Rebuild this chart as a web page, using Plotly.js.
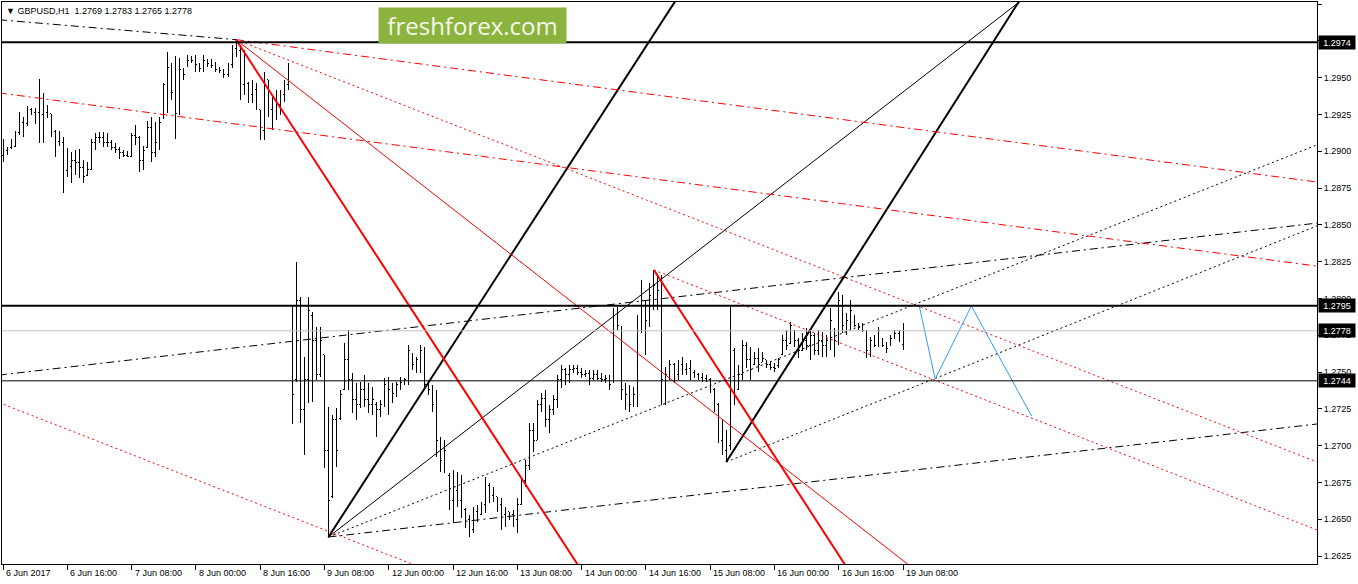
<!DOCTYPE html>
<html>
<head>
<meta charset="utf-8">
<script src="https://cdn.plot.ly/plotly-3.0.1.min.js"></script>
<style>
html,body{margin:0;padding:0;background:#fff;}
#chart{width:1358px;height:584px;}
.ohlclayer path{shape-rendering:crispEdges;}
</style>
</head>
<body>
<div id="chart"></div>
<script>
// ---------------- DATA ----------------
const symbol = "GBPUSD,H1";

const open = [
1.28974,1.29008,1.29022,1.29035,1.29130,1.29198,1.29191,1.29280,1.29266,1.29266,
1.29246,1.29266,1.29253,1.29137,1.29069,1.29056,1.28872,1.28893,1.28940,1.28926,
1.28886,1.28838,1.28879,1.29062,1.29096,1.29090,1.29062,1.29056,1.29028,1.29015,
1.28988,1.28974,1.28967,1.29110,1.29090,1.28940,1.29022,1.29164,1.28994,1.29062,
1.29219,1.29450,1.29572,1.29402,1.29259,1.29552,1.29579,1.29619,1.29613,1.29586,
1.29565,1.29619,1.29599,1.29579,1.29552,1.29545,1.29518,1.29586,1.29701,1.29687,
1.29450,1.29463,1.29382,1.29416,1.29280,1.29144,1.29484,1.29280,1.29348,1.29314,
1.29382,1.29450,
1.27955,1.27446,1.27989,1.27242,1.27446,1.27887,1.27717,1.27480,1.27616,1.26970,
1.26651,1.27174,1.27187,1.27378,1.27582,1.27446,1.27310,1.27276,1.27378,1.27310,
1.27276,1.27276,1.27242,1.27276,1.27412,1.27378,1.27357,1.27412,1.27432,1.27446,
1.27616,1.27548,1.27582,1.27649,1.27412,
1.27378,1.27276,1.27038,1.26902,1.26800,1.26630,1.26698,1.26630,1.26563,1.26495,
1.26427,1.26549,1.26529,1.26597,1.26732,1.26664,1.26651,1.26597,1.26529,1.26549,
1.26529,1.26495,1.26597,1.26766,1.26868,1.27106,1.27038,1.27276,1.27323,1.27174,
1.27242,1.27310,1.27446,1.27514,1.27480,
1.27514,1.27527,1.27500,1.27480,1.27493,1.27459,1.27480,1.27459,1.27446,1.27459,
1.27432,1.27887,1.27806,1.27378,1.27344,1.27276,1.27344,1.27785,1.27989,1.27853,
1.28023,1.28091,1.28057,1.27446,1.27480,1.27548,1.27480,1.27548,1.27514,1.27527,
1.27500,1.27480,1.27466,1.27459,1.27446,1.27378,1.27276,1.27038,1.26970,
1.27004,1.27649,1.27378,1.27480,1.27683,1.27582,1.27548,1.27595,1.27568,1.27582,
1.27548,1.27534,1.27541,1.27616,1.27717,1.27697,1.27785,1.27717,1.27649,1.27717,
1.27683,1.27751,1.27649,1.27717,1.27683,1.27717,1.27785,1.27717,1.27989,1.27819,
1.27853,1.27887,1.27819,1.27799,1.27785,1.27649,1.27717,1.27683,1.27731,1.27683,
1.27683,1.27731,1.27765,1.27690];

const high = [
1.29083,1.29028,1.29083,1.29137,1.29266,1.29232,1.29307,1.29293,1.29293,1.29490,
1.29395,1.29314,1.29253,1.29144,1.29137,1.29096,1.29022,1.28994,1.29008,1.29015,
1.28940,1.28926,1.29083,1.29124,1.29130,1.29130,1.29124,1.29076,1.29056,1.29028,
1.29008,1.29001,1.29124,1.29178,1.29103,1.29035,1.29205,1.29232,1.29198,1.29232,
1.29463,1.29674,1.29599,1.29647,1.29633,1.29565,1.29653,1.29647,1.29653,1.29599,
1.29653,1.29626,1.29626,1.29606,1.29572,1.29558,1.29599,1.29721,1.29758,1.29721,
1.29687,1.29470,1.29484,1.29463,1.29280,1.29538,1.29484,1.29368,1.29416,1.29416,
1.29484,1.29599,
1.27955,1.28247,1.28010,1.27602,1.28010,1.27908,1.27806,1.27806,1.27616,1.27262,
1.27208,1.27255,1.27378,1.27697,1.27785,1.27493,1.27425,1.27432,1.27480,1.27425,
1.27398,1.27296,1.27310,1.27459,1.27466,1.27425,1.27432,1.27466,1.27459,1.27683,
1.27629,1.27602,1.27683,1.27670,1.27446,
1.27412,1.27378,1.27058,1.27038,1.26814,1.26834,1.26821,1.26800,1.26576,1.26529,
1.26583,1.26597,1.26617,1.26787,1.26746,1.26719,1.26651,1.26644,1.26583,1.26549,
1.26563,1.26644,1.26787,1.26902,1.27154,1.27154,1.27310,1.27357,1.27378,1.27276,
1.27344,1.27480,1.27548,1.27527,1.27548,
1.27548,1.27548,1.27527,1.27514,1.27514,1.27514,1.27514,1.27493,1.27480,1.27480,
1.27935,1.27942,1.27806,1.27425,1.27412,1.27398,1.27887,1.28125,1.27989,1.28105,
1.28193,1.28145,1.28159,1.27534,1.27582,1.27561,1.27582,1.27602,1.27561,1.27582,
1.27514,1.27493,1.27493,1.27480,1.27459,1.27391,1.27289,1.27174,1.27106,
1.27942,1.27663,1.27548,1.27717,1.27704,1.27670,1.27636,1.27663,1.27636,1.27582,
1.27568,1.27561,1.27595,1.27751,1.27785,1.27840,1.27785,1.27731,1.27765,1.27799,
1.27785,1.27765,1.27785,1.27772,1.27751,1.27935,1.27799,1.28043,1.28023,1.27901,
1.27989,1.27887,1.27833,1.27833,1.27785,1.27738,1.27751,1.27806,1.27731,1.27704,
1.27751,1.27785,1.27785,1.27830];

const low = [
1.28926,1.28974,1.29015,1.29028,1.29110,1.29096,1.29171,1.29246,1.29185,1.29056,
1.29056,1.29225,1.29096,1.28961,1.29035,1.28716,1.28825,1.28784,1.28838,1.28818,
1.28784,1.28831,1.28872,1.29008,1.29056,1.29028,1.29028,1.29008,1.28988,1.28947,
1.28961,1.28961,1.28961,1.29042,1.28859,1.28872,1.29022,1.28926,1.28961,1.29008,
1.29219,1.29259,1.29348,1.29083,1.29246,1.29484,1.29572,1.29599,1.29538,1.29538,
1.29538,1.29572,1.29565,1.29538,1.29531,1.29497,1.29504,1.29565,1.29640,1.29348,
1.29382,1.29327,1.29327,1.29280,1.29076,1.29076,1.29232,1.29144,1.29212,1.29246,
1.29334,1.29416,
1.27147,1.27432,1.27154,1.26936,1.27289,1.27296,1.27446,1.27466,1.26848,1.26379,
1.26644,1.26855,1.27174,1.27378,1.27378,1.27221,1.27174,1.27255,1.27262,1.27221,
1.27208,1.27058,1.27194,1.27262,1.27208,1.27289,1.27330,1.27378,1.27412,1.27412,
1.27514,1.27493,1.27493,1.27398,1.27344,
1.27228,1.26923,1.26821,1.26814,1.26563,1.26474,1.26583,1.26508,1.26440,1.26379,
1.26406,1.26481,1.26529,1.26542,1.26610,1.26617,1.26549,1.26427,1.26447,1.26495,
1.26447,1.26406,1.26597,1.26719,1.26834,1.26957,1.27038,1.27228,1.27126,1.27086,
1.27208,1.27255,1.27391,1.27412,1.27425,
1.27493,1.27480,1.27459,1.27466,1.27412,1.27446,1.27446,1.27432,1.27425,1.27378,
1.27432,1.27785,1.27310,1.27242,1.27228,1.27262,1.27262,1.27765,1.27616,1.27806,
1.27921,1.27921,1.27276,1.27276,1.27446,1.27425,1.27446,1.27480,1.27480,1.27446,
1.27459,1.27446,1.27432,1.27432,1.27357,1.27228,1.27018,1.26936,1.26889,
1.26970,1.27276,1.27378,1.27446,1.27527,1.27446,1.27548,1.27500,1.27568,1.27527,
1.27514,1.27500,1.27527,1.27616,1.27649,1.27697,1.27670,1.27595,1.27649,1.27649,
1.27582,1.27616,1.27616,1.27602,1.27602,1.27649,1.27602,1.27683,1.27765,1.27751,
1.27785,1.27806,1.27785,1.27772,1.27595,1.27602,1.27670,1.27670,1.27670,1.27629,
1.27683,1.27731,1.27704,1.27650];

const close = [
1.29008,1.28988,1.29035,1.29130,1.29198,1.29191,1.29280,1.29266,1.29266,1.29246,
1.29266,1.29253,1.29225,1.29069,1.29056,1.28872,1.28893,1.28940,1.28926,1.28886,
1.28825,1.28879,1.29062,1.29096,1.29090,1.29062,1.29056,1.29028,1.29015,1.28988,
1.28974,1.28967,1.29110,1.29090,1.28940,1.29008,1.29164,1.28994,1.29062,1.29198,
1.29450,1.29572,1.29402,1.29259,1.29552,1.29518,1.29619,1.29613,1.29586,1.29565,
1.29619,1.29599,1.29579,1.29552,1.29545,1.29518,1.29586,1.29701,1.29687,1.29450,
1.29619,1.29382,1.29416,1.29314,1.29144,1.29484,1.29280,1.29348,1.29314,1.29382,
1.29450,1.29552,
1.27344,1.27989,1.27242,1.27446,1.27921,1.27717,1.27480,1.27717,1.26970,1.26630,
1.27174,1.26970,1.27344,1.27582,1.27446,1.27310,1.27276,1.27378,1.27310,1.27276,
1.27310,1.27242,1.27276,1.27412,1.27378,1.27357,1.27412,1.27432,1.27446,1.27649,
1.27548,1.27582,1.27649,1.27412,1.27378,
1.27276,1.27038,1.26902,1.26970,1.26630,1.26698,1.26630,1.26563,1.26495,1.26427,
1.26549,1.26529,1.26597,1.26732,1.26664,1.26651,1.26597,1.26529,1.26563,1.26529,
1.26495,1.26597,1.26766,1.26868,1.27106,1.27038,1.27276,1.27323,1.27174,1.27242,
1.27310,1.27446,1.27514,1.27480,1.27514,
1.27527,1.27500,1.27480,1.27493,1.27459,1.27480,1.27459,1.27446,1.27459,1.27412,
1.27887,1.27819,1.27378,1.27344,1.27276,1.27344,1.27785,1.27989,1.27853,1.28023,
1.28091,1.28057,1.27446,1.27480,1.27548,1.27480,1.27548,1.27514,1.27527,1.27500,
1.27480,1.27466,1.27459,1.27446,1.27378,1.27276,1.27038,1.26970,1.27004,
1.27683,1.27378,1.27480,1.27683,1.27582,1.27514,1.27595,1.27548,1.27595,1.27548,
1.27534,1.27527,1.27582,1.27717,1.27683,1.27819,1.27717,1.27649,1.27717,1.27683,
1.27751,1.27649,1.27717,1.27683,1.27717,1.27853,1.27717,1.27989,1.27819,1.27853,
1.27921,1.27819,1.27799,1.27785,1.27649,1.27717,1.27683,1.27785,1.27683,1.27663,
1.27731,1.27765,1.27724,1.27780];

// time axis labels (bar index -> label)
const tickBars = [0,16,32,48,64,80,96,112,128,144,160,176,192,208,224];
const tickLabels = ["6 Jun 2017","6 Jun 16:00","7 Jun 08:00","8 Jun 00:00","8 Jun 16:00",
  "9 Jun 08:00","12 Jun 00:00","12 Jun 16:00","13 Jun 08:00","14 Jun 00:00",
  "14 Jun 16:00","15 Jun 08:00","16 Jun 00:00","16 Jun 16:00","19 Jun 08:00"];

// price scale
const priceTicks = [1.2625,1.2650,1.2675,1.2700,1.2725,1.2750,1.2775,1.2800,
  1.2825,1.2850,1.2875,1.2900,1.2925,1.2950,1.2975,1.3000];

// horizontal levels
const levelPrices = [1.2974, 1.2795, 1.2744];

// trend lines: anchor (bar, price) -> (bar, price)
const trendBar0  = [81, 180, 81, -1, 81, 81, 180, -1, 58, 162, 58, 58, 58, -1, 162, -1];
const trendPrice0 = [1.26379,1.26889,1.26379,1.27479,1.26379,1.26379,1.26889,1.29893,
  1.29758,1.28193,1.29758,1.29758,1.29758,1.29396,1.28193,1.27292];
const trendBar1  = [172, 258, 260, 330, 330, 330, 330, 58, 146, 212, 228, 330, 330, 330, 330, 110];
const trendPrice1 = [1.30217,1.30238,1.30163,1.28521,1.27156,1.29075,1.28525,1.29758,
  1.26067,1.26088,1.26134,1.28780,1.26857,1.28209,1.26395,1.26108];

// forecast path
const forecastBars = [228, 232, 241, 256];
const forecastPrices = [1.27955, 1.27452, 1.27948, 1.27201];

// ---------------- STYLES ----------------
const DOT = "2px,3px", DASHDOT = "8px,4px,2px,4px";
const trendStyle = [
  {c:"#000", w:2, d:"solid"}, {c:"#000", w:2, d:"solid"}, {c:"#000", w:1, d:"solid"},
  {c:"#000", w:1, d:DASHDOT}, {c:"#000", w:1, d:DASHDOT}, {c:"#000", w:1, d:DOT},
  {c:"#000", w:1, d:DOT}, {c:"#000", w:1, d:DASHDOT},
  {c:"#ff0000", w:2, d:"solid"}, {c:"#ff0000", w:2, d:"solid"}, {c:"#ff0000", w:1, d:"solid"},
  {c:"#ff0000", w:1, d:DASHDOT}, {c:"#ff0000", w:1, d:DOT}, {c:"#ff0000", w:1, d:DASHDOT},
  {c:"#ff0000", w:1, d:DOT}, {c:"#ff0000", w:1, d:DOT}
];
const levelStyle = [{w:2,c:"#000"},{w:2,c:"#000"},{w:1,c:"#000"}];

const FONT = "Liberation Sans, Arial, sans-serif";
const last = open.length - 1;
const bars = open.map((_, i) => i);

const traces = [{
  type: "ohlc", x: bars, open: open, high: high, low: low, close: close,
  increasing: {line: {color: "#000", width: 1}},
  decreasing: {line: {color: "#000", width: 1}},
  tickwidth: 0.3, hoverinfo: "skip", showlegend: false
}];

for (let k = 0; k < trendBar0.length; k++) {
  traces.push({
    type: "scatter", mode: "lines",
    x: [trendBar0[k], trendBar1[k]], y: [trendPrice0[k], trendPrice1[k]],
    line: {color: trendStyle[k].c, width: trendStyle[k].w, dash: trendStyle[k].d},
    hoverinfo: "skip", showlegend: false
  });
}
traces.push({
  type: "scatter", mode: "lines", x: forecastBars, y: forecastPrices,
  line: {color: "#3399ff", width: 1}, hoverinfo: "skip", showlegend: false
});

const shapes = levelPrices.map((p, k) => ({
  type: "line", xref: "paper", x0: 0, x1: 1, yref: "y", y0: p, y1: p,
  line: {color: levelStyle[k].c, width: levelStyle[k].w}, layer: "above"
}));
shapes.unshift({
  type: "line", xref: "paper", x0: 0, x1: 1, yref: "y", y0: close[last], y1: close[last],
  line: {color: "#c0c0c0", width: 1}, layer: "above"
});

const annotations = [];
tickBars.forEach((b, k) => annotations.push({
  xref: "x", x: b, yref: "paper", y: 0, xanchor: "left", yanchor: "top",
  xshift: 1, yshift: -2, showarrow: false, text: tickLabels[k],
  font: {family: FONT, size: 9, color: "#000"}
}));
levelPrices.concat([close[last]]).forEach(p => annotations.push({
  xref: "paper", x: 1, yref: "y", y: p, xanchor: "left", yanchor: "middle",
  xshift: 1, showarrow: false, text: p.toFixed(4), bgcolor: "#000",
  borderpad: 1, width: 34, height: 11,
  font: {family: FONT, size: 9, color: "#fff"}
}));
annotations.push({
  xref: "paper", x: 0, yref: "paper", y: 1, xanchor: "left", yanchor: "top",
  xshift: 2, yshift: -2, showarrow: false, align: "left",
  text: "\u25BC " + symbol + "  " + [open[last], high[last], low[last], close[last]].map(v => v.toFixed(4)).join(" "),
  font: {family: FONT, size: 9, color: "#000"}
});
annotations.push({
  xref: "paper", x: 0, yref: "paper", y: 1, xanchor: "left", yanchor: "top",
  xshift: 376, yshift: -5, showarrow: false, text: "freshforex.com",
  bgcolor: "#8cb33e", borderpad: 0, width: 187, height: 35,
  font: {family: "Open Sans, sans-serif", size: 24, color: "#f4f8ea"}
});

const layout = {
  width: 1358, height: 584,
  margin: {l: 2, r: 41, t: 2, b: 20},
  paper_bgcolor: "#fff", plot_bgcolor: "#fff",
  showlegend: false,
  font: {family: FONT, size: 9, color: "#000"},
  xaxis: {
    range: [-0.249, 327.03], showgrid: false, zeroline: false,
    showline: true, mirror: true, linecolor: "#000", linewidth: 1,
    tickmode: "array", tickvals: tickBars, showticklabels: false,
    ticks: "outside", ticklen: 5, tickcolor: "#000",
    rangeslider: {visible: false}, fixedrange: true
  },
  yaxis: {
    range: [1.261957, 1.300136], side: "right", showgrid: false, zeroline: false,
    showline: true, mirror: true, linecolor: "#000", linewidth: 1,
    tickmode: "array", tickvals: priceTicks, ticktext: priceTicks.map(v => v.toFixed(4)),
    ticks: "outside", ticklen: 4, tickcolor: "#000",
    tickfont: {family: FONT, size: 9, color: "#000"}, fixedrange: true
  },
  shapes: shapes,
  annotations: annotations
};

Plotly.newPlot("chart", traces, layout, {displayModeBar: false, staticPlot: true});
</script>
</body>
</html>
